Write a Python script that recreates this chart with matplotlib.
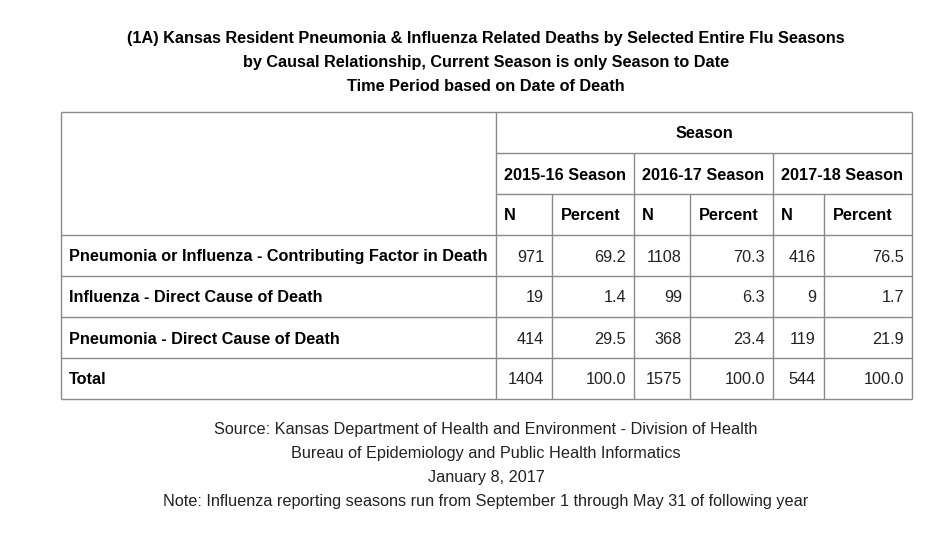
import matplotlib
matplotlib.use("Agg")
import matplotlib.pyplot as plt

# ---- data ----
title_lines = [
    "(1A) Kansas Resident Pneumonia & Influenza Related Deaths by Selected Entire Flu Seasons",
    "by Causal Relationship, Current Season is only Season to Date",
    "Time Period based on Date of Death",
]
seasons = ["2015-16 Season", "2016-17 Season", "2017-18 Season"]
categories = [
    "Pneumonia or Influenza - Contributing Factor in Death",
    "Influenza - Direct Cause of Death",
    "Pneumonia - Direct Cause of Death",
    "Total",
]
n_2015 = [971, 19, 414, 1404]
pct_2015 = [69.2, 1.4, 29.5, 100.0]
n_2016 = [1108, 99, 368, 1575]
pct_2016 = [70.3, 6.3, 23.4, 100.0]
n_2017 = [416, 9, 119, 544]
pct_2017 = [76.5, 1.7, 21.9, 100.0]
footer_lines = [
    "Source: Kansas Department of Health and Environment - Division of Health",
    "Bureau of Epidemiology and Public Health Informatics",
    "January 8, 2017",
    "Note: Influenza reporting seasons run from September 1 through May 31 of following year",
]

# ---- layout (pixels) ----
W, H = 949, 547
fig = plt.figure(figsize=(W / 100, H / 100), dpi=100)
ax = fig.add_axes([0, 0, 1, 1])
ax.set_xlim(0, W)
ax.set_ylim(H, 0)
ax.axis("off")

FONT = "Liberation Sans"
FS = 11.7
LC = "#8a8a8a"
LW = 1.0
DY = 1.5  # vertical text offset

col_x = [61, 496, 552, 634, 690, 773, 824, 912]
row_y = [112, 153, 194, 235, 276, 317, 358, 399]

# title
for i, t in enumerate(title_lines):
    ax.text(486, 37 + 24 * i + DY, t, ha="center", va="center", fontsize=FS,
            fontweight="bold", family=FONT, color="#000000")

# grid lines
def hline(y, x0, x1):
    ax.plot([x0, x1], [y, y], color=LC, lw=LW, solid_capstyle="butt")

def vline(x, y0, y1):
    ax.plot([x, x], [y0, y1], color=LC, lw=LW, solid_capstyle="butt")

hline(row_y[0], col_x[0], col_x[-1])
hline(row_y[1], col_x[1], col_x[-1])
hline(row_y[2], col_x[1], col_x[-1])
for y in row_y[3:]:
    hline(y, col_x[0], col_x[-1])
vline(col_x[0], row_y[0], row_y[-1])
vline(col_x[1], row_y[0], row_y[-1])
vline(col_x[-1], row_y[0], row_y[-1])
for x in (col_x[3], col_x[5]):
    vline(x, row_y[1], row_y[-1])
for x in (col_x[2], col_x[4], col_x[6]):
    vline(x, row_y[2], row_y[-1])

def mid(i):
    return (row_y[i] + row_y[i + 1]) / 2 + DY

# headers
ax.text((col_x[1] + col_x[-1]) / 2, mid(0), "Season", ha="center", va="center",
        fontsize=FS, fontweight="bold", family=FONT)
for k, s in enumerate(seasons):
    ax.text(col_x[1 + 2 * k] + 8, mid(1), s, ha="left", va="center",
            fontsize=FS, fontweight="bold", family=FONT)
    ax.text(col_x[1 + 2 * k] + 8, mid(2), "N", ha="left", va="center",
            fontsize=FS, fontweight="bold", family=FONT)
    ax.text(col_x[2 + 2 * k] + 9, mid(2), "Percent", ha="left", va="center",
            fontsize=FS, fontweight="bold", family=FONT)

# body
n_series = [n_2015, n_2016, n_2017]
p_series = [pct_2015, pct_2016, pct_2017]
for r, cat in enumerate(categories):
    y = mid(3 + r)
    ax.text(col_x[0] + 8, y, cat, ha="left", va="center", fontsize=FS,
            fontweight="bold", family=FONT)
    for k in range(3):
        ax.text(col_x[2 + 2 * k] - 8, y, f"{n_series[k][r]}", ha="right",
                va="center", fontsize=FS, family=FONT, color="#222222")
        ax.text(col_x[3 + 2 * k] - 8, y, f"{p_series[k][r]:.1f}", ha="right",
                va="center", fontsize=FS, family=FONT, color="#222222")

# footer
for i, t in enumerate(footer_lines):
    ax.text(486, 428 + 24 * i + DY, t, ha="center", va="center", fontsize=FS,
            family=FONT, color="#222222")

fig.savefig("out.png", dpi=100, facecolor="white")
